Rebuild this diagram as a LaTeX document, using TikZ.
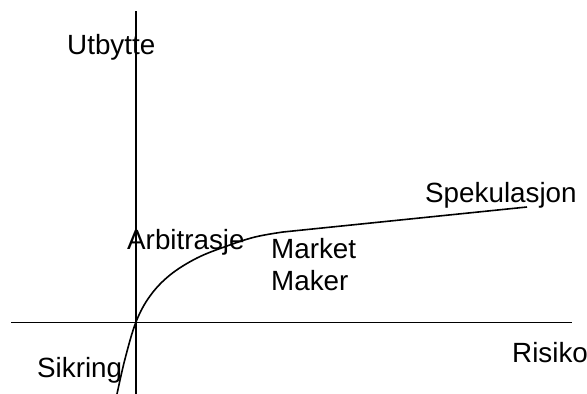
\documentclass[tikz,border=0pt]{standalone}
\usepackage{fontspec}
\setmainfont{Liberation Sans}
\begin{document}
\begin{tikzpicture}[x=1pt,y=-1pt,
  lbl/.style={anchor=base west,inner sep=0pt,font=\fontsize{27.8}{32}\selectfont},
  ax/.style={line width=1.6pt},
  crv/.style={line width=1.6pt}]
\useasboundingbox (0,0) rectangle (587,394);
\coordinate (ytop) at (136,11);
\coordinate (ybot) at (136,394);
\coordinate (xl) at (11,322.5);
\coordinate (xr) at (572,322.5);
\draw[ax] (ytop) -- (ybot);
\draw[ax] (xl) -- (xr);
\coordinate (c0) at (117,394);
\coordinate (c1) at (283,232);
\coordinate (c2) at (527,207);
\draw[crv] plot[smooth,tension=0.6] coordinates {(117,394) (125,359) (136,322) (150,296) (170,275) (197,258) (227,246) (255,237) (283,232)} -- (c2);
\node[lbl] (utb) at (67,54) {Utbytte};
\node[lbl] (arb) at (127,249) {Arbitrasje};
\node[lbl] (mm1) at (271,258) {Market};
\node[lbl] (mm2) at (271,290) {Maker};
\node[lbl] (spk) at (425,202) {Spekulasjon};
\node[lbl] (ris) at (512,362) {Risiko};
\node[lbl] (sik) at (37,377) {Sikring};
\end{tikzpicture}
\end{document}
